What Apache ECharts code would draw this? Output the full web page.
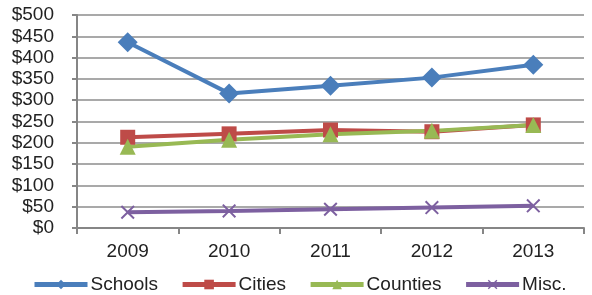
<!DOCTYPE html>
<html>
<head>
<meta charset="utf-8">
<script src="https://cdn.jsdelivr.net/npm/echarts@6/dist/echarts.min.js"></script>
<style>
html, body { margin: 0; padding: 0; background: #fff; }
#chart { width: 592px; height: 295px; }
</style>
</head>
<body>
<div id="chart"></div>
<script>
var years = ['2009', '2010', '2011', '2012', '2013'];
var schools = [436, 316, 334, 353, 383];
var cities = [213, 221, 230, 226, 242];
var counties = [191, 207, 220, 228, 242];
var misc = [37, 40, 44, 48, 52];

var crossPath = 'path://M0,1L1,0L5,4L9,0L10,1L6,5L10,9L9,10L5,6L1,10L0,9L4,5Z';
var font = 'Liberation Sans, Arial, sans-serif';

var chart = echarts.init(document.getElementById('chart'));

function makeSeries(name, data, color, symbol, size) {
    return {
        name: name,
        type: 'line',
        data: data,
        symbol: symbol,
        symbolSize: size,
        lineStyle: { color: color, width: 4 },
        itemStyle: { color: color },
        emphasis: { disabled: true },
        animation: false
    };
}

var option = {
    grid: { left: 77, right: 8, top: 15, bottom: 67 },
    legend: {
        left: 32,
        top: 275,
        width: 560,
        padding: 0,
        itemWidth: 53,
        itemHeight: 12,
        itemGap: 22,
        lineStyle: { width: 5 },
        textStyle: { fontFamily: font, fontSize: 19, color: '#222', padding: [0, 0, 0, -2] },
        data: ['Schools', 'Cities', 'Counties', 'Misc.']
    },
    xAxis: {
        type: 'category',
        data: years,
        boundaryGap: true,
        axisLine: { lineStyle: { color: '#868686', width: 2 } },
        axisTick: { show: true, length: 6, lineStyle: { color: '#868686', width: 2 } },
        axisLabel: { fontFamily: font, fontSize: 19, color: '#222', margin: 14 }
    },
    yAxis: {
        type: 'value',
        min: 0,
        max: 500,
        interval: 50,
        axisLine: { show: true, lineStyle: { color: '#868686', width: 2 } },
        axisTick: { show: true, length: 5, lineStyle: { color: '#868686', width: 2 } },
        axisLabel: {
            fontFamily: font, fontSize: 19, color: '#222', margin: 23,
            formatter: function (v) { return '$' + v; }
        },
        splitLine: { lineStyle: { color: '#8c8c8c', width: 1.5 } }
    },
    series: [
        makeSeries('Schools', schools, '#4A7EBB', 'diamond', 20),
        makeSeries('Cities', cities, '#BE4B48', 'rect', 15),
        makeSeries('Counties', counties, '#98B954', 'triangle', 16),
        makeSeries('Misc.', misc, '#7D60A0', crossPath, 14)
    ]
};
chart.setOption(option);
</script>
</body>
</html>
